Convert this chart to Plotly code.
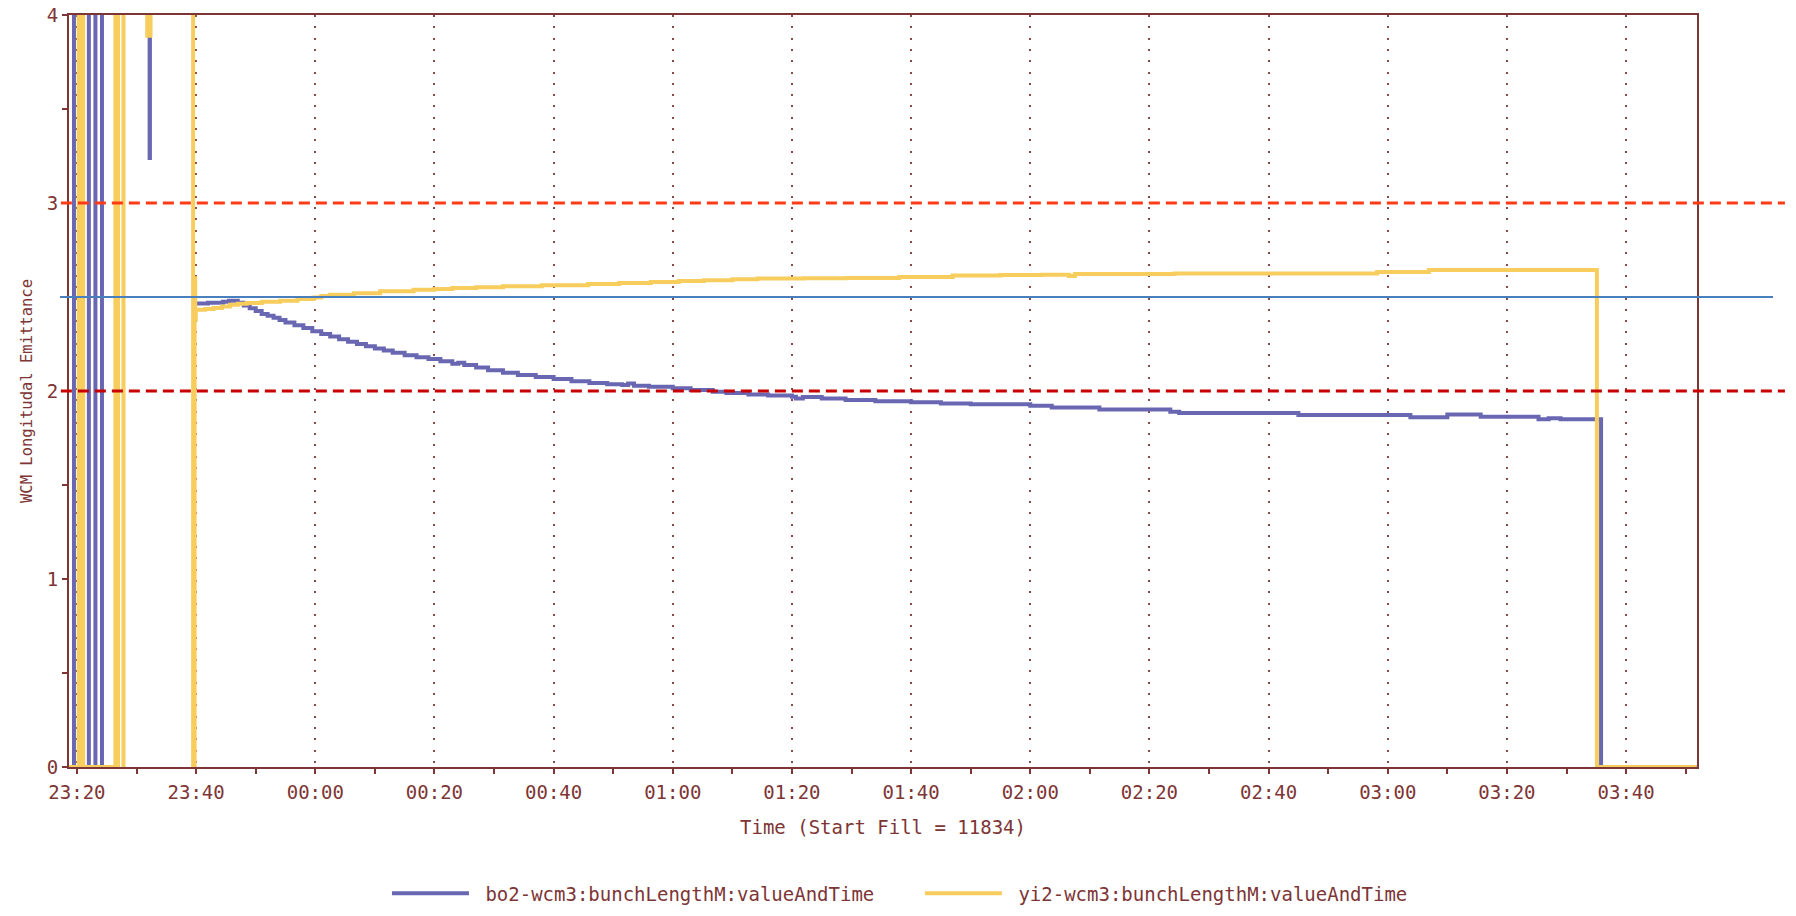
import plotly.graph_objects as go

# ---------------- data ----------------
DAY1 = "2010-06-01"
DAY2 = "2010-06-02"

# bo2-wcm3:bunchLengthM:valueAndTime  (values above 4 are off-scale, None = no data)
bo2_time = [
    "23:18:40", "23:19:30", "23:22:00", "23:23:06", "23:24:12", "23:26:36",
    "23:32:12", "23:32:15", "23:32:18", "23:36:00",
    "23:39:54", "23:42:00", "23:44:30", "23:45:30", "23:47:00", "23:48:00", "23:49:00",
    "23:50:00", "23:51:00", "23:52:00", "23:53:00", "23:54:00", "23:55:00", "23:56:30",
    "23:58:00", "23:59:30", "00:01:00", "00:02:30", "00:04:00", "00:05:30", "00:07:00",
    "00:08:30", "00:10:00", "00:11:30", "00:13:00", "00:15:00", "00:17:00", "00:19:00",
    "00:21:00", "00:23:00", "00:24:00", "00:25:00", "00:27:00", "00:29:00", "00:31:30",
    "00:34:00", "00:37:00", "00:40:00", "00:43:00", "00:46:00", "00:49:00", "00:51:30",
    "00:52:30", "00:53:30", "00:56:00", "01:00:00", "01:03:00", "01:06:42", "01:09:00",
    "01:12:42", "01:16:00", "01:20:00", "01:20:40", "01:21:50", "01:25:00", "01:29:00",
    "01:34:00", "01:40:00", "01:45:00", "01:50:00", "02:00:00", "02:03:36", "02:11:36",
    "02:23:30", "02:25:00", "02:33:12", "02:45:00", "03:03:48", "03:10:00", "03:15:36",
    "03:25:18", "03:27:00", "03:29:00", "03:35:48", "03:51:50",
]
bo2_value = [
    0, 6.0, 0, 6.0, 0, 6.0,
    3.24, 6.0, 6.0, None,
    2.465, 2.47, 2.475, 2.48, 2.47, 2.455, 2.44,
    2.425, 2.41, 2.40, 2.39, 2.378, 2.365, 2.35,
    2.335, 2.318, 2.303, 2.29, 2.275, 2.262, 2.25,
    2.238, 2.226, 2.215, 2.203, 2.19, 2.18, 2.17,
    2.158, 2.145, 2.15, 2.138, 2.125, 2.11, 2.097,
    2.085, 2.074, 2.064, 2.052, 2.042, 2.036, 2.032,
    2.040, 2.028, 2.022, 2.014, 2.005, 1.996, 1.990,
    1.982, 1.976, 1.970, 1.960, 1.968, 1.960, 1.952,
    1.946, 1.940, 1.934, 1.929, 1.922, 1.912, 1.902,
    1.890, 1.883, 1.883, 1.872, 1.861, 1.875, 1.863,
    1.850, 1.855, 1.850, 0, 0,
]

# yi2-wcm3:bunchLengthM:valueAndTime
yi2_time = [
    "23:18:36", "23:20:18", "23:20:33", "23:20:48", "23:21:03", "23:26:27", "23:26:42",
    "23:26:54", "23:27:48", "23:27:49", "23:31:48", "23:32:21", "23:39:30", "23:39:45",
    "23:39:51", "23:39:57", "23:41:30", "23:42:54", "23:44:20", "23:45:42", "23:47:00",
    "23:48:30", "23:51:00", "23:54:06", "23:57:00", "23:59:42", "00:01:00", "00:02:30",
    "00:06:30", "00:10:54", "00:16:30", "00:20:00", "00:23:00", "00:27:00", "00:31:30",
    "00:38:00", "00:45:48", "00:51:00", "00:56:18", "01:01:00", "01:05:12", "01:10:00",
    "01:14:12", "01:22:00", "01:29:06", "01:38:00", "01:47:00", "01:55:00", "02:02:00",
    "02:06:30", "02:07:30", "02:15:00", "02:24:12", "02:45:00", "02:58:12", "03:06:54",
    "03:35:06", "03:51:50",
]
yi2_value = [
    0, 6.0, 0, 6.0, 0, 6.0, 0,
    6.0, 0, 6.0, 3.89, 6.0, 0, 2.60,
    2.38, 2.432, 2.436, 2.441, 2.45, 2.459, 2.464,
    2.468, 2.475, 2.48, 2.49, 2.497, 2.505, 2.512,
    2.52, 2.53, 2.538, 2.543, 2.548, 2.552, 2.557,
    2.562, 2.569, 2.574, 2.58, 2.585, 2.589, 2.594,
    2.598, 2.600, 2.601, 2.607, 2.614, 2.617, 2.619,
    2.612, 2.622, 2.623, 2.625, 2.625, 2.633, 2.644,
    0, 0,
]

series_names = ["bo2-wcm3:bunchLengthM:valueAndTime", "yi2-wcm3:bunchLengthM:valueAndTime"]
limit_high = 3.0
limit_low = 2.0
target = 2.5

x_start = f"{DAY1} 23:18:40"
x_end = f"{DAY2} 03:51:54"
y_ticks = [0, 1, 2, 3, 4]


def to_dt(times):
    return [f"{DAY1 if t.startswith('23') else DAY2} {t}" for t in times]


# ---------------- styling ----------------
MAROON = "#7d3535"
PURPLE = "#6a67b2"
YELLOW = "#f7cd5e"
FONT = "DejaVu Sans Mono"
NBSP = "\u00a0"

fig = go.Figure()
fig.add_trace(go.Scatter(
    x=to_dt(bo2_time), y=bo2_value, mode="lines", name=NBSP + series_names[0],
    line=dict(color=PURPLE, width=4, shape="hv"), connectgaps=False,
))
fig.add_trace(go.Scatter(
    x=to_dt(yi2_time), y=yi2_value, mode="lines", name=NBSP + series_names[1],
    line=dict(color=YELLOW, width=4, shape="hv"),
))

# reference lines (extend past the plot frame like the original)
fig.add_shape(type="line", xref="paper", yref="y", x0=-0.005, x1=1.054,
              y0=limit_high, y1=limit_high,
              line=dict(color="#ff3a17", width=3, dash="11px,6px"))
fig.add_shape(type="line", xref="paper", yref="y", x0=-0.005, x1=1.054,
              y0=limit_low, y1=limit_low,
              line=dict(color="#c80000", width=3, dash="11px,6px"))
fig.add_shape(type="line", xref="paper", yref="y", x0=-0.0055, x1=1.0467,
              y0=target, y1=target,
              line=dict(color="#4a7fbd", width=2))

fig.update_layout(
    width=1796, height=916,
    margin=dict(l=69, r=99, t=15, b=149, autoexpand=False),
    paper_bgcolor="white", plot_bgcolor="white",
    font=dict(family=FONT, size=19, color=MAROON),
    showlegend=True,
    legend=dict(orientation="h", x=0.1953, xanchor="left", y=-0.168, yanchor="middle",
                font=dict(family=FONT, size=19, color=MAROON),
                itemwidth=77, entrywidth=441, entrywidthmode="pixels",
                traceorder="normal", bgcolor="rgba(0,0,0,0)"),
    xaxis=dict(
        type="date", range=[x_start, x_end], automargin=False,
        tick0=f"{DAY1} 23:20:00", dtick=1200000, tickformat="%H:%M",
        ticks="outside", ticklen=5, tickwidth=2, tickcolor=MAROON,
        ticklabelstandoff=2,
        minor=dict(dtick=600000, tick0=f"{DAY1} 23:20:00", ticks="outside",
                   ticklen=5, tickwidth=2, tickcolor=MAROON, showgrid=False),
        showline=True, linecolor=MAROON, linewidth=2, mirror=True,
        showgrid=True, gridcolor="#8a4a4a", gridwidth=1.5, griddash="2px,9.3px",
        zeroline=False,
        tickfont=dict(family=FONT, size=19, color=MAROON),
        title=dict(text="Time (Start Fill = 11834)",
                   font=dict(family=FONT, size=19, color=MAROON), standoff=19),
    ),
    yaxis=dict(
        range=[0, 4], tickvals=y_ticks, automargin=False,
        ticks="outside", ticklen=5, tickwidth=2, tickcolor=MAROON,
        minor=dict(dtick=0.5, ticks="outside", ticklen=5, tickwidth=2,
                   tickcolor=MAROON, showgrid=False),
        showline=True, linecolor=MAROON, linewidth=2, mirror=True,
        showgrid=False, zeroline=False,
        tickfont=dict(family=FONT, size=19, color=MAROON),
        title=dict(text="WCM Longitudal Emittance",
                   font=dict(family=FONT, size=15.5, color=MAROON), standoff=10),
    ),
)

fig.write_html("out.html", config={"displayModeBar": False},
               post_script="document.body.style.margin='0';document.body.style.overflow='hidden';")
